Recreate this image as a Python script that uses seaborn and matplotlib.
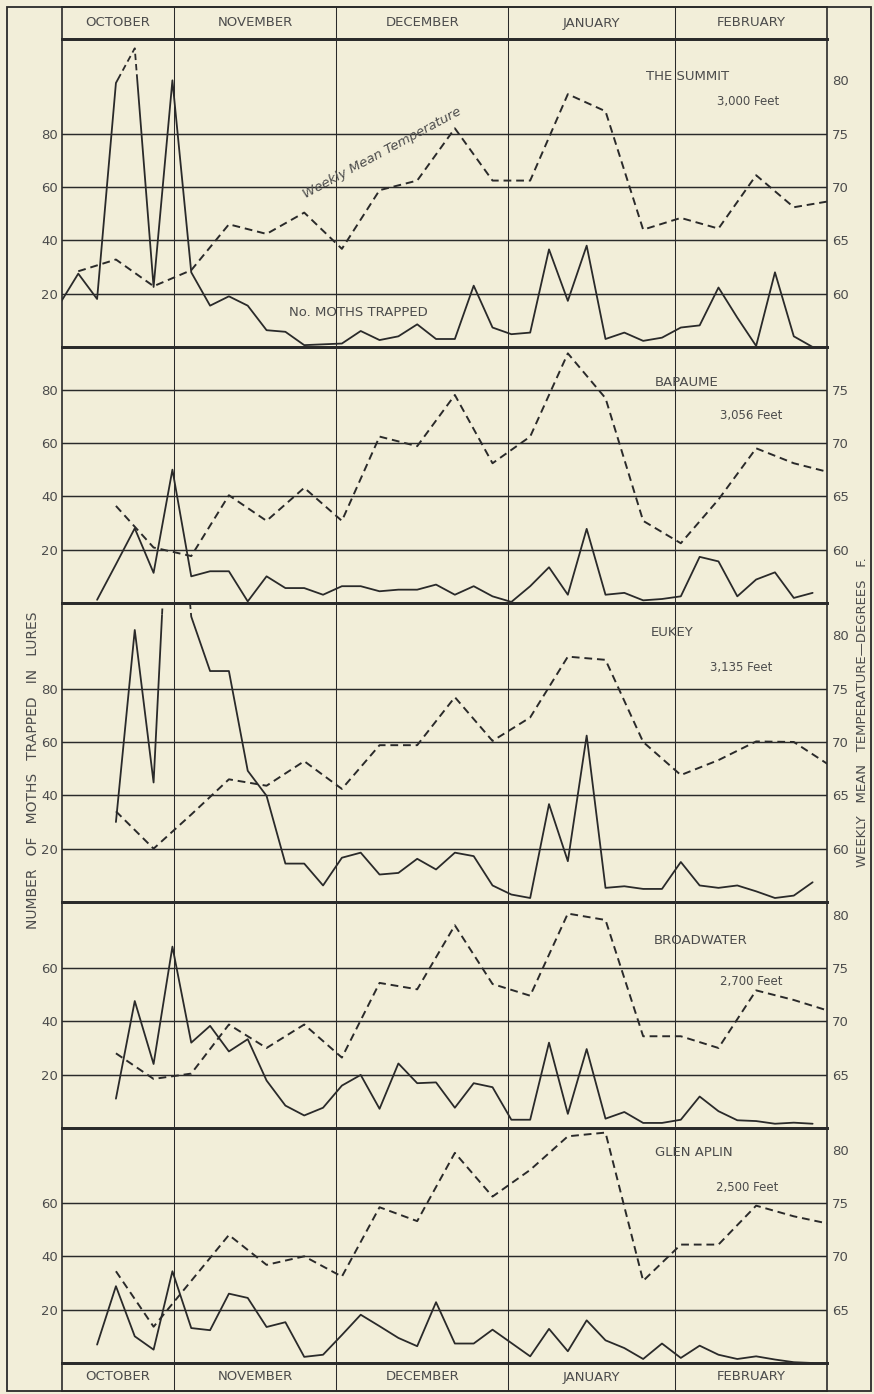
import numpy as np
import pandas as pd
import seaborn as sns
import matplotlib.pyplot as plt
from matplotlib.patches import Rectangle

# twice-weekly trap counts (index 0..40) and weekly mean temperatures (odd index)
idx = np.arange(41)
temp_idx = np.arange(1, 42, 2)

months = ["OCTOBER", "NOVEMBER", "DECEMBER", "JANUARY", "FEBRUARY"]
month_edges = [6.1, 14.7, 23.84, 32.7]

stations = ["THE SUMMIT", "BAPAUME", "EUKEY", "BROADWATER", "GLEN APLIN"]
heights = ["3,000 Feet", "3,056 Feet", "3,135 Feet", "2,700 Feet", "2,500 Feet"]

summit_moths = [16, 27.5, 18, 99, 112, 22.5, 100, 28, 15.5, 19, 15.5, 6.3, 5.7, 0.7, 1, 1.3,
                6, 2.6, 4, 8.5, 3, 3, 23, 7.3, 4.8, 5.4, 36.6, 17.3, 38, 3, 5.4, 2.3, 3.5,
                7.3, 8.1, 22.3, 11, 0.4, 28, 4, 0]
summit_temp = [62.1, 63.2, 60.7, 62.2, 66.5, 65.6, 67.6, 64.2, 69.7, 70.6, 75.5, 70.6, 70.6,
               78.7, 77.1, 66.0, 67.1, 66.1, 71.1, 68.1, 68.7]

bapaume_moths = [None, None, 1.2, 14.5, 28, 11.3, 50, 10, 11.9, 11.9, 0.6, 10, 5.6, 5.6, 3.1,
                 6.3, 6.3, 4.4, 5, 5, 6.9, 3.1, 6.3, 2.5, 0.4, 6.3, 13.4, 3.1, 27.8, 3.1, 3.8,
                 1, 1.5, 2.5, 17.3, 15.6, 2.5, 8.8, 11.5, 1.9, 3.8]
bapaume_temp = [None, 64.1, 60.2, 59.4, 65.1, 62.7, 65.8, 62.7, 70.6, 69.7, 74.5, 68.1, 70.6,
                78.4, 74.2, 62.7, 60.6, 64.7, 69.5, 68.1, 67.2]

eukey_moths = [None, None, None, 30, 102, 44.8, 185, 107, 86.6, 86.6, 49.2, 39.8, 14.4, 14.4,
               6.2, 16.6, 18.5, 10.3, 10.9, 16.2, 12.2, 18.5, 17.2, 6.2, 2.8, 1.5, 36.7, 15.3,
               62.4, 5.3, 5.9, 4.9, 4.9, 15, 6.2, 5.3, 6.2, 4, 1.5, 2.4, 7.4]
eukey_temp = [None, 63.5, 60, 63.2, 66.5, 65.9, 68.2, 65.6, 69.7, 69.7, 74.2, 70.1, 72.3,
              78, 77.7, 70, 66.9, 68.3, 70.05, 70, 67.7]

broadwater_moths = [None, None, None, 11, 47.6, 24, 68, 32, 38.3, 28.7, 33.3, 17.8, 8.4, 4.7,
                    7.6, 15.9, 19.9, 7.2, 24.2, 16.8, 17.1, 7.6, 16.8, 15.3, 3.1, 3.1, 32, 5.3,
                    29.6, 3.5, 6, 1.9, 1.9, 3.1, 11.8, 6.3, 2.9, 2.6, 1.6, 2, 1.6]
broadwater_temp = [None, 67, 64.6, 65.1, 69.7, 67.5, 69.7, 66.6, 73.6, 73, 79, 73.5, 72.4,
                   80.1, 79.5, 68.6, 68.6, 67.5, 72.9, 72, 70.9]

glen_moths = [None, None, 6.9, 28.8, 10, 5, 34.4, 13.1, 12.3, 26, 24.4, 13.5, 15.3, 2.3, 3.1,
              10.5, 18.1, 13.8, 9.4, 6.3, 22.8, 7.3, 7.3, 12.5, 7.5, 2.5, 12.8, 4.4, 16, 8.5,
              5.6, 1.5, 7.3, 1.9, 6.5, 3.1, 1.5, 2.5, 1.3, 0.3, 0]
glen_temp = [None, 68.6, 63.4, 67.7, 72, 69.2, 70, 68.1, 74.6, 73.3, 79.7, 75.6, 78.1, 81.25,
             81.6, 67.7, 71.1, 71.1, 74.75, 73.75, 73]

moths = [summit_moths, bapaume_moths, eukey_moths, broadwater_moths, glen_moths]
temps = [summit_temp, bapaume_temp, eukey_temp, broadwater_temp, glen_temp]
temp_base = [55, 55, 55, 60, 60]
count_ticks = [[20, 40, 60, 80]] * 3 + [[20, 40, 60]] * 2
temp_ticks = [[60, 65, 70, 75, 80], [60, 65, 70, 75], [60, 65, 70, 75, 80],
              [65, 70, 75, 80], [65, 70, 75, 80]]
off_scale = [100.5, None, 107.5, None, None]

# layout in pixels of the 874 x 1394 page
W, H = 874, 1394
X0, X1 = 61.7, 827.5
XL, XR = 0.12, 40.79
PX_PER_COUNT = 2.667
panel_px = [(39, 347), (347, 603), (603, 902), (902, 1128), (1128, 1363)]
name_px = [(688, 76), (687, 383), (672, 633), (701, 940), (694, 1153)]
feet_px = [(748, 102), (751, 416), (741, 667), (751, 982), (747, 1187)]

PAPER = "#f2eed9"
INK = "#2a2a2a"
GREY = "#4c4c4c"

sns.set_theme(style="white")
plt.rcParams["font.family"] = ["DejaVu Sans"]

fig = plt.figure(figsize=(W / 100, H / 100), dpi=100, facecolor=PAPER)


def box(top, bottom):
    return [X0 / W, 1 - bottom / H, (X1 - X0) / W, (bottom - top) / H]


def ftext(x, y, s, **kw):
    fig.text(x / W, 1 - y / H, s, ha="center", va="center", color=GREY, **kw)


for k in range(5):
    top, bot = panel_px[k]
    ymax = (bot - top) / PX_PER_COUNT
    ax = fig.add_axes(box(top, bot))
    ax.set_facecolor("none")

    for c in count_ticks[k]:
        ax.axhline(c, color=INK, lw=1.05, zorder=1)
    for e in month_edges:
        ax.axvline(e, color=INK, lw=0.75, zorder=1)

    df = pd.DataFrame({"idx": idx, "moths": moths[k]}).dropna()
    sns.lineplot(data=df, x="idx", y="moths", ax=ax, color=INK, lw=1.3, errorbar=None)
    if off_scale[k] is not None:
        # above the break the count line is drawn dashed, as in the original
        brk = off_scale[k]
        ax.lines[-1].set_clip_path(Rectangle((XL, -3), XR - XL, brk + 3, transform=ax.transData))
        sns.lineplot(data=df, x="idx", y="moths", ax=ax, color=INK, lw=1.3,
                     linestyle=(0, (3.5, 2.2)), errorbar=None)
        ax.lines[-1].set_clip_path(Rectangle((XL, brk), XR - XL, ymax - brk, transform=ax.transData))

    ax.set_xlim(XL, XR)
    ax.set_ylim(0, ymax)
    ax.set_xticks([])
    ax.set_yticks(count_ticks[k])
    ax.tick_params(axis="y", length=0, pad=2.5, labelsize=9.5, labelcolor=GREY)
    ax.set_xlabel("")
    ax.set_ylabel("")
    for side in ["left", "right"]:
        ax.spines[side].set_linewidth(1.2)
        ax.spines[side].set_color(INK)
    for side in ["top", "bottom"]:
        ax.spines[side].set_linewidth(2.0)
        ax.spines[side].set_color(INK)

    ax2 = ax.twinx()
    tdf = pd.DataFrame({"idx": temp_idx, "temp": temps[k]}).dropna()
    sns.lineplot(data=tdf, x="idx", y="temp", ax=ax2, color=INK, lw=1.4,
                 linestyle=(0, (4, 2.5)), errorbar=None)
    ax2.set_xlim(XL, XR)
    ax2.set_ylim(temp_base[k], temp_base[k] + ymax / 4)
    ax2.set_yticks(temp_ticks[k])
    ax2.tick_params(axis="y", length=0, pad=3.5, labelsize=9.5, labelcolor=GREY)
    ax2.set_ylabel("")
    for sp in ax2.spines.values():
        sp.set_visible(False)

    ftext(*name_px[k], stations[k], fontsize=9.5)
    ftext(*feet_px[k], heights[k], fontsize=8.5)

# month header and footer rows
for top, bot in [(7, 39), (1363, 1391)]:
    hx = fig.add_axes(box(top, bot))
    hx.set_facecolor("none")
    hx.set_xlim(XL, XR)
    hx.set_ylim(0, 1)
    hx.set_xticks([])
    hx.set_yticks([])
    for e in month_edges:
        hx.axvline(e, color=INK, lw=0.75)
    edges = [XL] + month_edges + [XR]
    for m, a, b in zip(months, edges[:-1], edges[1:]):
        hx.text((a + b) / 2, 0.5, m, ha="center", va="center", fontsize=9.5, color=GREY)
    for sp in hx.spines.values():
        sp.set_color(INK)
        sp.set_linewidth(1.2)
    hx.spines["bottom" if top < 100 else "top"].set_linewidth(2.0)

fig.add_artist(Rectangle((7.3 / W, 1 - 1391 / H), (871 - 7.3) / W, (1391 - 7) / H,
                         transform=fig.transFigure, fill=False, lw=1.3, ec=INK))

ftext(382, 153, "Weekly Mean Temperature", fontsize=9.5, style="italic", rotation=28.4)
ftext(358, 312, "No. MOTHS TRAPPED", fontsize=9.5)
ftext(33, 770, "NUMBER   OF   MOTHS   TRAPPED   IN   LURES", fontsize=10, rotation=90)
ftext(862, 712, "WEEKLY   MEAN   TEMPERATURE\u2014DEGREES   F.", fontsize=9.5, rotation=90)

fig.savefig("out.png", dpi=100, facecolor=PAPER)
